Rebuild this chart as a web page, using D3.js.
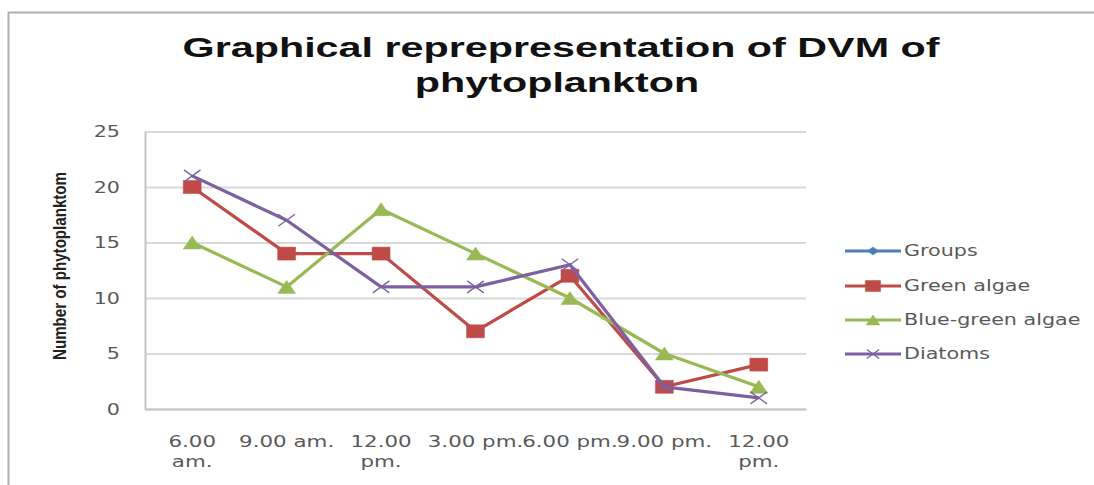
<!DOCTYPE html>
<html>
<head>
<meta charset="utf-8">
<script src="https://cdn.jsdelivr.net/npm/d3@7"></script>
<style>
  html, body { margin: 0; padding: 0; background: #ffffff; overflow: hidden; }
  svg { display: block; }
</style>
</head>
<body>
<svg id="chart" width="1094" height="485"></svg>
<script>
// Diel vertical migration counts per time of day
const categoryLines = [["6.00", "am."], ["9.00 am."], ["12.00", "pm."], ["3.00 pm."], ["6.00 pm."], ["9.00 pm."], ["12.00", "pm."]];
const seriesNames = ["Groups", "Green algae", "Blue-green algae", "Diatoms"];
const groups = [];
const greenAlgae = [20, 14, 14, 7, 12, 2, 4];
const blueGreenAlgae = [15, 11, 18, 14, 10, 5, 2];
const diatoms = [21, 17, 11, 11, 13, 2, 1];
const yTicks = [0, 5, 10, 15, 20, 25];
const titleLines = ["Graphical reprepresentation of DVM of", "phytoplankton"];
const yTitle = "Number of phytoplanktom";

const colors = ["#4a7ebb", "#be4b48", "#98b954", "#7d60a0"];
const markers = ["diamond", "square", "triangle", "cross"];
const seriesValues = [groups, greenAlgae, blueGreenAlgae, diatoms];

const svg = d3.select("#chart");
const sx = 1.38; // horizontal stretch of the small text
const labelFont = "'DejaVu Sans', Verdana, sans-serif";
const labelColor = "#595959";

// outer chart frame (left and top edges in view)
svg.append("path")
  .attr("d", "M8.5,485V12.5H1094")
  .attr("fill", "none").attr("stroke", "#b0b0b0").attr("stroke-width", 2);

// title
const titleG = svg.append("g");
const t1 = titleG.append("text")
  .attr("text-anchor", "middle")
  .attr("font-family", "'Liberation Sans', Arial, sans-serif")
  .attr("font-weight", "bold").attr("font-size", 27).attr("fill", "#111")
  .text(titleLines[0]);
const tw = t1.node().getComputedTextLength();
const tsx = 757 / tw;
t1.attr("transform", `translate(561,57) scale(${tsx},1)`);
titleG.append("text")
  .attr("text-anchor", "middle")
  .attr("font-family", "'Liberation Sans', Arial, sans-serif")
  .attr("font-weight", "bold").attr("font-size", 27).attr("fill", "#111")
  .attr("transform", `translate(557,92) scale(${tsx},1)`)
  .text(titleLines[1]);

// scales
const plot = { left: 145, right: 806, top: 131.5, bottom: 409 };
const x = d3.scaleBand().domain(d3.range(categoryLines.length)).range([plot.left, plot.right]);
const cx = i => x(i) + x.bandwidth() / 2;
const y = d3.scaleLinear().domain([0, 25]).range([plot.bottom, plot.top]);

// gridlines
const grid = svg.append("g").attr("transform", `translate(${plot.left},0)`)
  .call(d3.axisLeft(y).tickValues(yTicks).tickSize(-(plot.right - plot.left)).tickFormat(""));
grid.select(".domain").remove();
grid.selectAll("line").attr("stroke", "#d9d9d9").attr("stroke-width", 2);

// y axis
const yAxis = svg.append("g").attr("transform", `translate(${plot.left},0)`)
  .call(d3.axisLeft(y).tickValues(yTicks).tickSize(0).tickPadding(0));
yAxis.select(".domain").attr("stroke", "#c4c4c4").attr("stroke-width", 2);
yAxis.selectAll("text")
  .attr("x", 0).attr("dy", "0.36em")
  .attr("transform", `translate(-25,0) scale(${sx},1)`)
  .attr("font-family", labelFont).attr("font-size", 15).attr("fill", labelColor);

// x axis
const xAxis = svg.append("g").attr("transform", `translate(0,${plot.bottom})`)
  .call(d3.axisBottom(x).tickSize(0).tickFormat(""));
xAxis.select(".domain").attr("stroke", "#c4c4c4").attr("stroke-width", 2);
xAxis.selectAll(".tick").each(function (i) {
  const tick = d3.select(this);
  tick.attr("transform", `translate(${cx(i)},0)`);
  tick.selectAll("text").remove();
  const txt = tick.append("text")
    .attr("text-anchor", "middle")
    .attr("transform", `scale(${sx},1)`)
    .attr("font-family", labelFont).attr("font-size", 15.5).attr("fill", labelColor);
  categoryLines[i].forEach((line, k) => {
    txt.append("tspan").attr("x", 0).attr("y", 38 + k * 20).text(line);
  });
});

// y axis title
svg.append("text")
  .attr("text-anchor", "middle")
  .attr("transform", `translate(66,266) scale(${sx},1) rotate(-90)`)
  .attr("font-family", "'Liberation Sans', Arial, sans-serif")
  .attr("font-weight", "bold").attr("font-size", 13.5).attr("fill", "#222")
  .attr("textLength", 188).attr("lengthAdjust", "spacingAndGlyphs")
  .text(yTitle);

// marker shapes (drawn wider than tall, as the rest of the chart)
function markerPath(type, s) {
  const w = s * 1.38 / 2, h = s / 2;
  switch (type) {
    case "square": return `M${-w},${-h}H${w}V${h}H${-w}Z`;
    case "triangle": return `M0,${-h}L${w},${h}L${-w},${h}Z`;
    case "diamond": return `M0,${-h}L${w},0L0,${h}L${-w},0Z`;
    case "cross": return `M${-w},${-h}L${w},${h}M${-w},${h}L${w},${-h}`;
  }
}

const line = d3.line().x((d, i) => cx(i)).y(d => y(d));

seriesValues.forEach((vals, s) => {
  if (!vals.length) return;
  const g = svg.append("g");
  g.append("path").datum(vals)
    .attr("d", line)
    .attr("fill", "none").attr("stroke", colors[s]).attr("stroke-width", 3.2)
    .attr("stroke-linejoin", "round");
  g.selectAll("path.mk").data(vals).join("path").attr("class", "mk")
    .attr("transform", (d, i) => `translate(${cx(i)},${y(d)})`)
    .attr("d", markerPath(markers[s], markers[s] === "cross" ? 12 : 13))
    .attr("fill", markers[s] === "cross" ? "none" : colors[s])
    .attr("stroke", colors[s])
    .attr("stroke-width", markers[s] === "cross" ? 1.3 : 0.5);
});

// legend
const legend = svg.append("g");
const legendRows = [251, 286, 320, 354];
seriesNames.forEach((name, s) => {
  const row = legend.append("g").attr("transform", `translate(0,${legendRows[s]})`);
  row.append("line").attr("x1", 845).attr("x2", 901).attr("y1", 0).attr("y2", 0)
    .attr("stroke", colors[s]).attr("stroke-width", 3);
  const size = { diamond: 8, square: 11, triangle: 10, cross: 9 }[markers[s]];
  row.append("path").attr("transform", "translate(873,0)")
    .attr("d", markerPath(markers[s], size))
    .attr("fill", markers[s] === "cross" ? "none" : colors[s])
    .attr("stroke", colors[s]).attr("stroke-width", markers[s] === "cross" ? 1.3 : 0.5);
  row.append("text")
    .attr("transform", `translate(904,0) scale(${sx},1)`)
    .attr("dy", "0.36em")
    .attr("font-family", labelFont).attr("font-size", 15).attr("fill", labelColor)
    .text(name);
});
</script>
</body>
</html>
